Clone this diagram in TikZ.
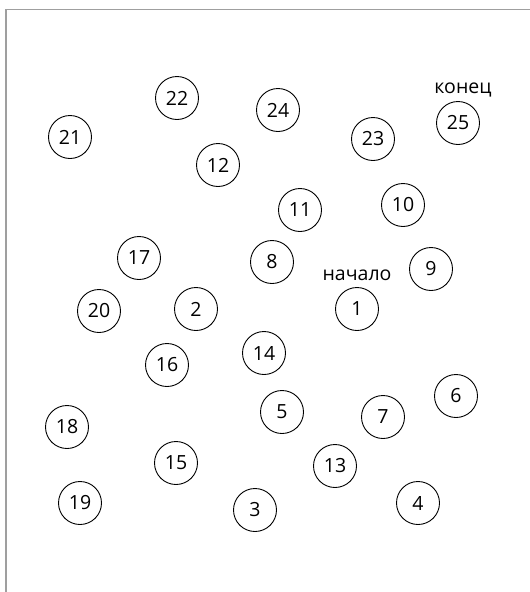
\documentclass[tikz,border=0pt]{standalone}
\usepackage{fontspec}
\setmainfont{Open Sans}
\begin{document}
\begin{tikzpicture}[x=1pt,y=-1pt,
  vert/.style={circle,draw=black,line width=0.9pt,minimum size=43pt,inner sep=0pt,font=\fontsize{19.5}{19.5}\selectfont},
  lbl/.style={font=\fontsize{19.5}{19.5}\selectfont,inner sep=0pt}]
\useasboundingbox (0,0) rectangle (530,592);
\fill[white] (0,0) rectangle (530,592);
\coordinate (fa) at (6,592);
\coordinate (fb) at (6,9.5);
\coordinate (fc) at (530,9.5);
\draw[gray!75,line width=1.6pt] (fa) -- (fb) -- (fc);
\node[vert] (n21) at (70,137) {21};
\node[vert] (n22) at (177,98) {22};
\node[vert] (n24) at (278,110) {24};
\node[vert] (n23) at (373,139) {23};
\node[vert] (n25) at (458,123) {25};
\node[lbl] (tend) at (463,90) {конец};
\node[vert] (n12) at (218,165) {12};
\node[vert] (n11) at (300,210) {11};
\node[vert] (n10) at (403,205) {10};
\node[vert] (n17) at (139,258) {17};
\node[vert] (n8) at (272,262) {8};
\node[lbl] (tstart) at (357,275) {начало};
\node[vert] (n9) at (431,269) {9};
\node[vert] (n20) at (99,311) {20};
\node[vert] (n2) at (196,309) {2};
\node[vert] (n1) at (357,309) {1};
\node[vert] (n16) at (167,365) {16};
\node[vert] (n14) at (264,353) {14};
\node[vert] (n6) at (456,396) {6};
\node[vert] (n5) at (282,412) {5};
\node[vert] (n7) at (383,417) {7};
\node[vert] (n18) at (67,427) {18};
\node[vert] (n15) at (176,463) {15};
\node[vert] (n13) at (335,466) {13};
\node[vert] (n19) at (80,503) {19};
\node[vert] (n3) at (255,510) {3};
\node[vert] (n4) at (418,503) {4};
\end{tikzpicture}
\end{document}
